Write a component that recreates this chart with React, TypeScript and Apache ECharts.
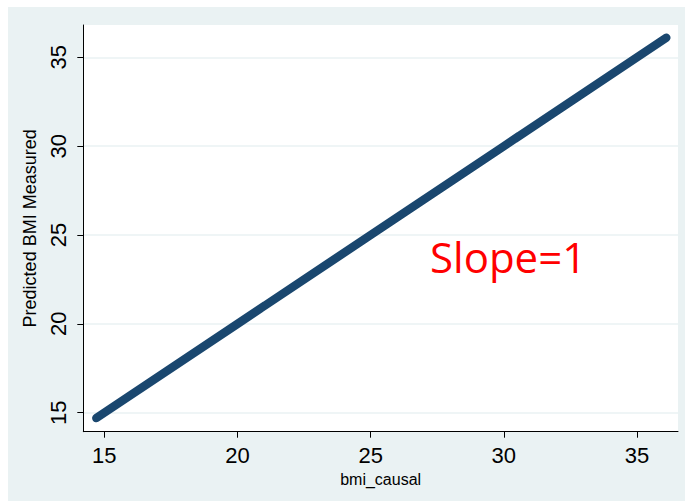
import React, { useEffect, useRef } from "react";
import * as echarts from "echarts";

const bmiCausal = [14.7, 20, 25, 30, 36.1];
const predictedBmi = [14.7, 20, 25, 30, 36.1];
const xTicks = [15, 20, 25, 30, 35];
const yTicks = [15, 20, 25, 30, 35];
const annotation = "Slope=1";

export default function App() {
  const ref = useRef<HTMLDivElement>(null);
  useEffect(() => {
    if (!ref.current) return;
    const chart = echarts.init(ref.current, null, { renderer: "svg" });
    const data = bmiCausal.map((x, i) => [x, predictedBmi[i]]);
    chart.setOption({
      animation: false,
      backgroundColor: "#EAF2F3",
      grid: { left: 75.3, right: 7, top: 18, bottom: 69.3, show: true, backgroundColor: "#FFFFFF", borderWidth: 0 },
      xAxis: {
        type: "value",
        min: 14.21,
        max: 36.54,
        name: "bmi_causal",
        nameLocation: "middle",
        nameGap: 38,
        nameTextStyle: { fontFamily: "Liberation Sans", fontSize: 16, color: "#000" },
        axisLine: { show: true, lineStyle: { color: "#000", width: 1 } },
        axisTick: { show: true, length: 6, lineStyle: { color: "#000" }, customValues: xTicks },
        axisLabel: { fontFamily: "Liberation Sans", fontSize: 22, color: "#000", margin: 13, customValues: xTicks },
        splitLine: { show: false },
      },
      yAxis: {
        type: "value",
        min: 13.93,
        max: 36.82,
        name: "Predicted BMI Measured",
        nameLocation: "middle",
        nameGap: 37,
        nameRotate: 90,
        nameTextStyle: { fontFamily: "Liberation Sans", fontSize: 18, color: "#000" },
        axisLine: { show: true, lineStyle: { color: "#000", width: 1 } },
        axisTick: { show: true, length: 6, lineStyle: { color: "#000" }, customValues: yTicks },
        axisLabel: { fontFamily: "Liberation Sans", fontSize: 22, color: "#000", margin: 14, rotate: 90, customValues: yTicks },
        splitLine: { show: true, lineStyle: { color: "#EAF2F3", width: 1.5 } },
      },
      series: [
        {
          type: "line",
          data,
          symbol: "none",
          lineStyle: { color: "#1A476F", width: 8.5, cap: "round" },
        },
      ],
      graphic: [
        {
          type: "text",
          left: 422,
          top: 228,
          style: { text: annotation, fill: "#FF0000", fontFamily: "Open Sans", fontSize: 42 },
        },
      ],
    });
    return () => chart.dispose();
  }, []);
  return (
    <div
      ref={ref}
      style={{ position: "fixed", left: 8, top: 7, width: 677, height: 494 }}
    />
  );
}
